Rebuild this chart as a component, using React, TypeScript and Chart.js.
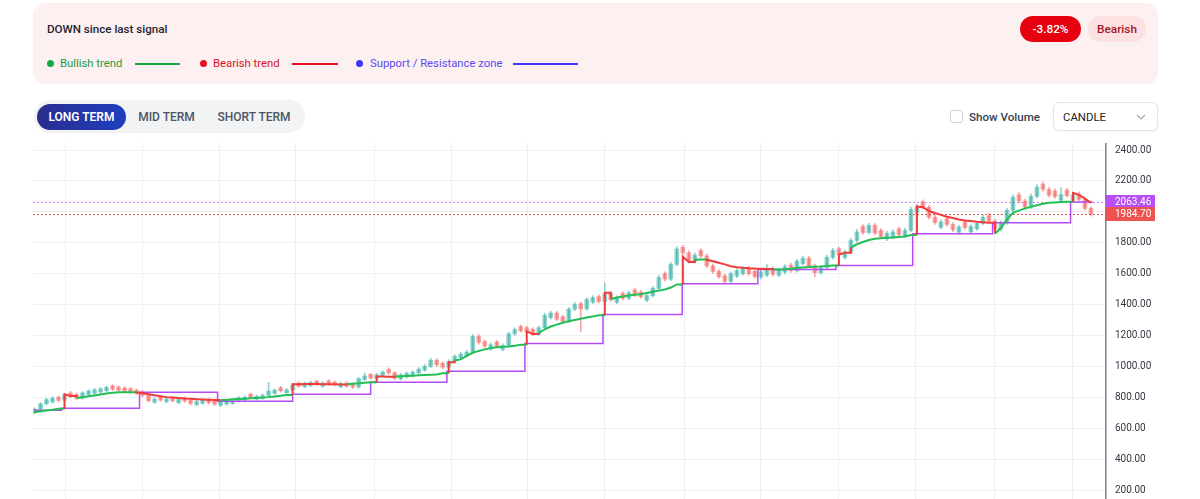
import React, { useEffect, useRef } from "react";
import { Chart, registerables } from "chart.js";

Chart.register(...registerables);

// ---------- DATA ----------
const opens = [
  700, 723, 758, 770, 800, 782, 828, 818, 796, 818,
  826, 834, 842, 874, 866, 860, 855, 846, 834, 812,
  768, 800, 772, 798, 766, 796, 780, 752, 762, 786,
  776, 748, 756, 760, 776, 782, 820, 788, 794, 812,
  826, 862, 830, 848, 892, 868, 876, 904, 872, 906,
  898, 868, 892, 886, 866, 916, 948, 922, 940, 980,
  958, 920, 932, 940, 958, 976, 1000, 1040, 1020, 995,
  1032, 1055, 1068, 1092, 1194, 1160, 1112, 1158, 1110, 1135,
  1210, 1258, 1250, 1240, 1210, 1250, 1315, 1345, 1320, 1292,
  1370, 1405, 1372, 1415, 1452, 1420, 1470, 1415, 1472, 1440,
  1494, 1480, 1428, 1458, 1505, 1600, 1565, 1660, 1770, 1735,
  1680, 1750, 1715, 1650, 1615, 1585, 1550, 1585, 1600, 1636,
  1615, 1578, 1590, 1632, 1590, 1610, 1655, 1620, 1665, 1700,
  1650, 1606, 1640, 1705, 1760, 1705, 1740, 1815, 1905, 1866,
  1912, 1880, 1825, 1835, 1890, 1845, 1880, 1995, 2065, 2030,
  1965, 1900, 1955, 1918, 1868, 1935, 1870, 1890, 1925, 1975,
  1940, 1888, 1929, 2010, 2110, 2070, 2030, 2100, 2180, 2145,
  2135, 2075, 2140, 2075, 2115, 2080, 2022,
];

const highs = [
  732, 766, 794, 804, 810, 826, 838, 826, 836, 850,
  858, 864, 874, 882, 874, 868, 864, 854, 842, 820,
  798, 808, 800, 806, 796, 804, 790, 782, 790, 794,
  784, 778, 784, 788, 806, 810, 828, 816, 822, 897,
  856, 870, 858, 890, 900, 900, 906, 912, 902, 914,
  906, 898, 900, 894, 930, 956, 956, 955, 972, 990,
  966, 955, 965, 972, 992, 1012, 1054, 1050, 1030, 1044,
  1076, 1092, 1104, 1208, 1206, 1170, 1152, 1168, 1146, 1222,
  1250, 1268, 1260, 1250, 1262, 1344, 1358, 1356, 1330, 1382,
  1414, 1416, 1444, 1458, 1464, 1542, 1482, 1458, 1484, 1488,
  1506, 1492, 1470, 1518, 1590, 1612, 1674, 1775, 1784, 1748,
  1735, 1762, 1728, 1662, 1628, 1598, 1612, 1632, 1645, 1648,
  1626, 1624, 1660, 1644, 1634, 1658, 1668, 1692, 1714, 1712,
  1662, 1652, 1718, 1764, 1772, 1752, 1828, 1886, 1918, 1926,
  1924, 1892, 1874, 1884, 1902, 1894, 2030, 2048, 2078, 2042,
  1978, 1948, 1968, 1930, 1914, 1946, 1918, 1938, 1980, 1988,
  1952, 1942, 2024, 2110, 2124, 2082, 2114, 2176, 2192, 2158,
  2148, 2155, 2152, 2124, 2128, 2092, 2034,
];

const lows = [
  692, 703, 750, 762, 770, 774, 798, 786, 788, 810,
  818, 826, 834, 844, 838, 832, 826, 818, 804, 770,
  760, 774, 764, 770, 758, 766, 750, 744, 754, 756,
  746, 740, 748, 752, 768, 774, 794, 780, 786, 804,
  818, 834, 822, 840, 864, 860, 868, 876, 864, 878,
  872, 860, 864, 856, 858, 908, 916, 914, 932, 948,
  912, 912, 924, 932, 950, 968, 992, 1000, 984, 986,
  1024, 1046, 1060, 1084, 1144, 1120, 1104, 1120, 1100, 1126,
  1200, 1220, 1212, 1200, 1202, 1242, 1305, 1295, 1282, 1284,
  1360, 1226, 1362, 1405, 1410, 1410, 1420, 1405, 1430, 1430,
  1452, 1440, 1418, 1448, 1495, 1552, 1555, 1650, 1722, 1668,
  1668, 1702, 1638, 1602, 1568, 1538, 1540, 1574, 1590, 1588,
  1570, 1566, 1580, 1584, 1578, 1598, 1608, 1610, 1654, 1638,
  1580, 1596, 1630, 1694, 1710, 1694, 1730, 1805, 1854, 1856,
  1850, 1828, 1814, 1824, 1840, 1834, 1870, 1985, 2018, 1952,
  1918, 1890, 1906, 1872, 1856, 1886, 1860, 1880, 1915, 1928,
  1876, 1876, 1918, 2000, 2058, 2018, 2020, 2090, 2132, 2096,
  2086, 2064, 2094, 2064, 2068, 2010, 1972,
];

const closes = [
  723, 758, 785, 794, 780, 815, 806, 796, 828, 840,
  848, 855, 864, 852, 846, 840, 835, 826, 812, 778,
  788, 782, 790, 778, 786, 776, 760, 772, 780, 766,
  756, 768, 774, 778, 796, 800, 802, 806, 812, 840,
  846, 842, 848, 880, 872, 890, 896, 884, 892, 886,
  880, 888, 872, 866, 920, 938, 925, 945, 962, 958,
  922, 945, 955, 962, 982, 1000, 1040, 1010, 995, 1032,
  1065, 1080, 1092, 1194, 1155, 1132, 1140, 1130, 1135, 1210,
  1238, 1230, 1222, 1210, 1250, 1330, 1345, 1305, 1292, 1370,
  1400, 1372, 1432, 1445, 1420, 1470, 1432, 1445, 1440, 1476,
  1462, 1450, 1458, 1505, 1575, 1565, 1660, 1760, 1735, 1680,
  1720, 1715, 1650, 1615, 1580, 1550, 1600, 1620, 1632, 1600,
  1582, 1612, 1625, 1596, 1622, 1645, 1620, 1680, 1700, 1650,
  1606, 1640, 1705, 1750, 1722, 1740, 1815, 1870, 1866, 1912,
  1862, 1840, 1862, 1870, 1852, 1880, 2015, 2032, 2030, 1965,
  1930, 1935, 1918, 1884, 1902, 1898, 1905, 1925, 1965, 1940,
  1888, 1929, 2010, 2095, 2070, 2030, 2100, 2160, 2145, 2108,
  2098, 2112, 2105, 2110, 2080, 2022, 1984.7,
];

const trendValues = [
  703, 709, 715, 720, 726, 819, 808, 796, 800, 806,
  812, 818, 824, 829, 832, 833, 833, 831, 827, 820,
  813, 807, 801, 798, 795, 792, 790, 788, 786, 784,
  782, 782, 783, 787, 789, 791, 794, 796, 798, 801,
  805, 810, 815, 884, 885, 886, 886, 886, 885, 885,
  884, 883, 884, 887, 890, 894, 897, 935, 934, 933,
  934, 936, 938, 940, 942, 944, 946, 948, 955, 1026,
  1038, 1045, 1068, 1088, 1100, 1110, 1118, 1124, 1127, 1129,
  1134, 1140, 1226, 1210, 1215, 1240, 1258, 1270, 1282, 1292,
  1300, 1308, 1316, 1322, 1330, 1477, 1436, 1445, 1452, 1458,
  1463, 1467, 1475, 1483, 1490, 1497, 1510, 1530, 1710, 1675,
  1690, 1692, 1690, 1680, 1670, 1660, 1648, 1642, 1638, 1635,
  1633, 1632, 1630, 1626, 1627, 1629, 1632, 1636, 1640, 1643,
  1645, 1647, 1650, 1652, 1723, 1735, 1768, 1790, 1805, 1818,
  1826, 1829, 1832, 1834, 1837, 1840, 1850, 2035, 2030, 2005,
  1992, 1980, 1968, 1960, 1950, 1944, 1940, 1936, 1933, 1930,
  1858, 1897, 1950, 1994, 2008, 2022, 2032, 2042, 2052, 2058,
  2061, 2063, 2065, 2123, 2110, 2085, 2058,
];

// 1 = bearish trend, 0 = bullish trend
const trendBearish = [
  0, 0, 0, 0, 0, 1, 1, 0, 0, 0,
  0, 0, 0, 0, 0, 0, 0, 1, 1, 1,
  1, 1, 1, 1, 1, 1, 1, 1, 1, 1,
  1, 0, 0, 0, 0, 0, 0, 0, 0, 0,
  0, 0, 0, 1, 1, 1, 1, 1, 1, 1,
  1, 1, 0, 0, 0, 0, 0, 1, 1, 1,
  0, 0, 0, 0, 0, 0, 0, 0, 0, 1,
  0, 0, 0, 0, 0, 0, 0, 0, 0, 0,
  0, 0, 1, 1, 0, 0, 0, 0, 0, 0,
  0, 0, 0, 0, 0, 1, 0, 0, 0, 0,
  0, 0, 0, 0, 0, 0, 0, 0, 1, 1,
  0, 0, 1, 1, 1, 1, 1, 1, 1, 1,
  1, 1, 1, 0, 0, 0, 0, 0, 0, 0,
  0, 0, 0, 0, 1, 1, 0, 0, 0, 0,
  0, 0, 0, 0, 0, 0, 0, 1, 1, 1,
  1, 1, 1, 1, 1, 1, 1, 1, 1, 1,
  0, 0, 0, 0, 0, 0, 0, 0, 0, 0,
  0, 0, 0, 1, 1, 1, 1,
];

// support / resistance zone: candle index where each level starts, and the level
const supportStarts = [0, 4.5, 17.5, 30.5, 43, 56, 68.7, 81.7, 94.7, 107.9, 120.5, 133.5, 146.3, 159.6, 172.6];
const supportLevels = [716, 729, 832, 774, 819, 897, 968, 1148, 1335, 1535, 1626, 1652, 1858, 1929, 2063.46];
const supportEnd = 176.3;

// time-axis gridlines (period boundaries, in candle index units)
const periodTicks = [5.2, 18, 30.9, 43.4, 56.6, 69.4, 82.2, 94.9, 108.2, 121, 134, 146.7, 160, 173];
const priceTicks = [200, 400, 600, 800, 1000, 1200, 1400, 1600, 1800, 2000, 2200, 2400];

const changePct = "-3.82%";

// ---------- STYLE ----------
const FONT = 'Roboto, "Noto Sans", "DejaVu Sans", sans-serif';
const GREEN = "#22bf55";
const RED = "#ef3b3b";
const PURPLE = "#b44cf6";
const UP = "rgba(38,166,154,0.5)";
const DOWN = "rgba(239,83,80,0.5)";

function PriceChart() {
  const ref = useRef<HTMLCanvasElement>(null);

  useEffect(() => {
    const canvas = ref.current;
    if (!canvas) return;
    const candleColors = closes.map((c, i) => (c >= opens[i] ? UP : DOWN));
    const supportData = supportStarts.map((x, i) => ({ x, y: supportLevels[i] }));
    supportData.push({ x: supportEnd, y: supportLevels[supportLevels.length - 1] });
    const lastClose = closes[closes.length - 1];
    const lastSupport = supportLevels[supportLevels.length - 1];

    // trend points; where the trend flips, the line jumps vertically at that candle
    const trendPoints: { x: number; y: number; bear: number }[] = [];
    trendValues.forEach((v, i) => {
      if (i > 0 && trendBearish[i] !== trendBearish[i - 1]) {
        trendPoints.push({ x: i, y: trendValues[i - 1], bear: trendBearish[i - 1] });
      }
      trendPoints.push({ x: i, y: v, bear: trendBearish[i] });
    });

    const priceLines = {
      id: "priceLines",
      beforeDatasetsDraw(chart: any) {
        const { ctx, chartArea, scales } = chart;
        const draw = (v: number, color: string) => {
          const py = Math.round(scales.y.getPixelForValue(v)) + 0.5;
          ctx.save();
          ctx.strokeStyle = color;
          ctx.lineWidth = 1;
          ctx.setLineDash([2, 2]);
          ctx.beginPath();
          ctx.moveTo(chartArea.left, py);
          ctx.lineTo(chartArea.right, py);
          ctx.stroke();
          ctx.restore();
        };
        draw(lastSupport, "#cf86ff");
        draw(lastClose, "#ef5350");
      },
      afterDraw(chart: any) {
        const { ctx, chartArea, scales } = chart;
        const tag = (v: number, color: string) => {
          const py = scales.y.getPixelForValue(v);
          ctx.save();
          ctx.fillStyle = color;
          ctx.fillRect(chartArea.right, Math.round(py) - 7, 49, 14);
          ctx.fillStyle = "#ffffff";
          ctx.font = `10px ${FONT}`;
          ctx.textAlign = "left";
          ctx.textBaseline = "middle";
          ctx.fillText(v.toFixed(2), chartArea.right + 9, Math.round(py) + 0.5);
          ctx.restore();
        };
        tag(lastSupport, "#b650f5");
        tag(lastClose, "#ef5350");
      },
    };

    const chart = new Chart(canvas, {
      type: "line",
      data: {
        datasets: [
          {
            type: "line",
            label: "trend",
            data: trendPoints,
            borderColor: GREEN,
            borderWidth: 2,
            pointRadius: 0,
            tension: 0,
            segment: {
              borderColor: (c: any) =>
                trendPoints[c.p0DataIndex].bear || trendPoints[c.p1DataIndex].bear ? RED : GREEN,
            },
            order: 0,
          },
          {
            type: "line",
            label: "support",
            data: supportData,
            borderColor: PURPLE,
            borderWidth: 1.5,
            pointRadius: 0,
            stepped: "before",
            order: 1,
          },
          {
            type: "bar",
            label: "bodies",
            data: closes.map((c, i) => ({ x: i, y: [opens[i], c] })),
            backgroundColor: candleColors,
            barThickness: 4,
            minBarLength: 1,
            grouped: false,
            borderWidth: 0,
            order: 2,
          },
          {
            type: "bar",
            label: "wicks",
            data: closes.map((_, i) => ({ x: i, y: [lows[i], highs[i]] })),
            backgroundColor: candleColors,
            barThickness: 1,
            grouped: false,
            borderWidth: 0,
            order: 3,
          },
        ],
      } as any,
      options: {
        animation: false,
        responsive: false,
        maintainAspectRatio: false,
        events: [],
        layout: { padding: 0 },
        plugins: { legend: { display: false }, tooltip: { enabled: false } },
        scales: {
          x: {
            type: "linear",
            min: -0.25,
            max: 178.5,
            offset: false,
            grid: { color: "#eef0f3", drawTicks: false, offset: false },
            border: { display: false },
            ticks: { display: false },
            afterBuildTicks: (s: any) => {
              s.ticks = periodTicks.map((v) => ({ value: v }));
            },
          },
          y: {
            type: "linear",
            position: "right",
            min: 141.8,
            max: 2445.3,
            grid: { color: "#eef0f3", drawTicks: false },
            border: { display: true, color: "#7d8096", width: 1.5 },
            ticks: {
              padding: 9,
              color: "#333840",
              font: { size: 10, family: FONT },
              callback: (v: any) => Number(v).toFixed(2),
            },
            afterBuildTicks: (s: any) => {
              s.ticks = priceTicks.map((v) => ({ value: v }));
            },
            afterFit: (s: any) => {
              s.width = 52;
              s.paddingTop = 0;
              s.paddingBottom = 0;
            },
          },
        },
      } as any,
      plugins: [priceLines],
    });
    return () => chart.destroy();
  }, []);

  return (
    <canvas
      ref={ref}
      width={1125}
      height={356}
      style={{ position: "absolute", left: 33, top: 143, width: 1125, height: 356 }}
    />
  );
}

function LegendItem(props: { dot: number; text: number; line: [number, number]; color: string; textColor: string; label: string }) {
  const { dot, text, line, color, textColor, label } = props;
  return (
    <>
      <div style={{ position: "absolute", left: dot - 3.5, top: 60, width: 7, height: 7, borderRadius: "50%", background: color }} />
      <div style={{ position: "absolute", left: text, top: 55, lineHeight: "18px", fontSize: 11.3, color: textColor, whiteSpace: "nowrap" }}>{label}</div>
      <div style={{ position: "absolute", left: line[0], top: 63, width: line[1] - line[0], height: 2, background: color }} />
    </>
  );
}

export default function App() {
  return (
    <div style={{ position: "relative", width: 1200, height: 499, overflow: "hidden", fontFamily: FONT, background: "#fff" }}>
      <style>{"html,body{margin:0;padding:0;overflow:hidden;background:#fff}"}</style>

      {/* signal card */}
      <div style={{ position: "absolute", left: 33, top: 3, width: 1125, height: 81, background: "#fdf0f0", borderRadius: 12 }} />
      <div style={{ position: "absolute", left: 47, top: 20, lineHeight: "18px", fontSize: 11.6, fontWeight: 500, color: "#1f2430", whiteSpace: "nowrap" }}>
        DOWN since last signal
      </div>
      <LegendItem dot={50} text={60} line={[135, 180]} color="#17a845" textColor="#1c9a48" label="Bullish trend" />
      <LegendItem dot={203} text={213} line={[292, 338]} color="#e8101c" textColor="#d3162a" label="Bearish trend" />
      <LegendItem dot={359} text={370} line={[513, 578]} color="#4433ff" textColor="#5b4bf0" label="Support / Resistance zone" />

      <div style={{ position: "absolute", left: 1020, top: 16, width: 61, height: 26, borderRadius: 13, background: "#e6000f", color: "#fff", fontSize: 11.8, fontWeight: 500, display: "flex", alignItems: "center", justifyContent: "center" }}>
        {changePct}
      </div>
      <div style={{ position: "absolute", left: 1088, top: 16, width: 58, height: 26, borderRadius: 13, background: "#fde0e1", color: "#a3172c", fontSize: 11.8, fontWeight: 500, display: "flex", alignItems: "center", justifyContent: "center" }}>
        Bearish
      </div>

      {/* term toggle */}
      <div style={{ position: "absolute", left: 34, top: 100, width: 271, height: 33, borderRadius: 17, background: "#f1f3f5" }} />
      <div style={{ position: "absolute", left: 37, top: 104, width: 89, height: 26, borderRadius: 13, background: "linear-gradient(90deg,#2b2c8e,#1f3fc0)", color: "#fff", fontSize: 12, fontWeight: 600, display: "flex", alignItems: "center", justifyContent: "center" }}>
        LONG TERM
      </div>
      <div style={{ position: "absolute", left: 126, top: 104, width: 81, height: 26, color: "#4b5563", fontSize: 12, fontWeight: 500, display: "flex", alignItems: "center", justifyContent: "center" }}>
        MID TERM
      </div>
      <div style={{ position: "absolute", left: 207, top: 104, width: 94, height: 26, color: "#4b5563", fontSize: 12, fontWeight: 500, display: "flex", alignItems: "center", justifyContent: "center" }}>
        SHORT TERM
      </div>

      {/* volume + type */}
      <div style={{ position: "absolute", left: 950, top: 110, width: 11, height: 11, border: "1px solid #cfd3d8", borderRadius: 3, background: "#fff" }} />
      <div style={{ position: "absolute", left: 969, top: 108, lineHeight: "18px", fontSize: 11.6, fontWeight: 500, color: "#374151", whiteSpace: "nowrap" }}>
        Show Volume
      </div>
      <div style={{ position: "absolute", left: 1053, top: 102, width: 103, height: 27, border: "1px solid #e1e4e8", borderRadius: 6, background: "#fff", boxShadow: "0 1px 2px rgba(0,0,0,0.04)" }} />
      <div style={{ position: "absolute", left: 1063, top: 108, lineHeight: "18px", fontSize: 11.4, color: "#222", whiteSpace: "nowrap" }}>CANDLE</div>
      <svg style={{ position: "absolute", left: 1136, top: 113 }} width={10} height={8}>
        <polyline points="1,2 5,6 9,2" fill="none" stroke="#a0a6ad" strokeWidth={1.2} />
      </svg>

      <PriceChart />
    </div>
  );
}
